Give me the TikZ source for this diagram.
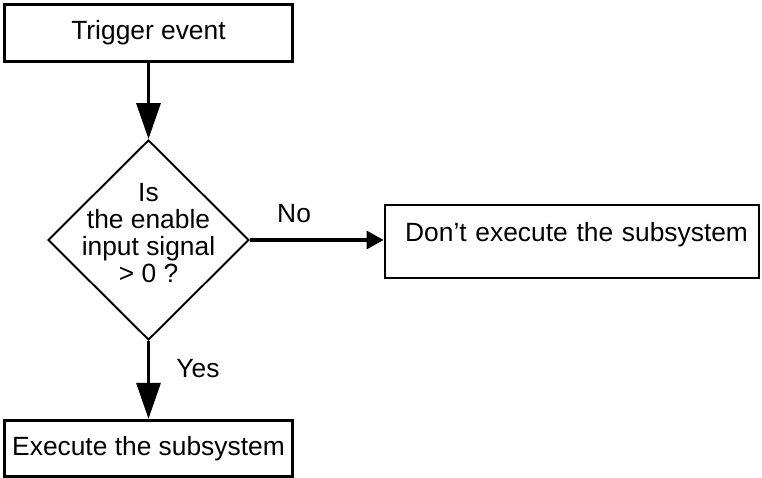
\documentclass[tikz,border=0pt]{standalone}
\usepackage{fontspec}
\setmainfont{Liberation Sans}
\usetikzlibrary{shapes.geometric,arrows.meta}

\begin{document}
\begin{tikzpicture}[
    font=\fontsize{15}{15.3}\selectfont,
    box/.style={draw, line width=1.6pt, minimum width=5.76cm, minimum height=1.13cm},
    decision/.style={draw, diamond, line width=1.1pt, inner sep=-0.3cm,
      minimum width=4.02cm, minimum height=4cm, align=center},
    bigarrow/.style={-{Triangle[length=0.72cm, width=0.48cm]}, line width=1.8pt},
    smallarrow/.style={-{Triangle[length=0.34cm, width=0.36cm]}, line width=1.8pt}
  ]
    \useasboundingbox (0, 0) rectangle (15.24, 9.56);

    \node[box] (trigger) at (2.97, 8.9) {Trigger event};
    \node[decision, text depth=0.28cm] (enable) at (2.97, 4.76)
      {Is\\the enable\\input signal\\> 0 ?};
    \node[box, minimum width=7.48cm, minimum height=1.46cm, text width=7.04cm,
      align=right, inner xsep=0.22cm, text height=0.4cm, text depth=0.4cm]
      (skip) at (11.44, 4.73) {Don't execute the subsystem};
    \node[box] (run) at (2.97, 0.59) {Execute the subsystem};

    \draw[bigarrow] (trigger.south) -- (enable.north);
    \draw[smallarrow] (enable.east) -- (enable.east -| skip.west)
      node[pos=0.33, above=0.2cm] (no) {No};
    \draw[bigarrow] (enable.south) -- (run.north)
      node[pos=0.35, right=0.41cm] (yes) {Yes};
  \end{tikzpicture}
\end{document}
